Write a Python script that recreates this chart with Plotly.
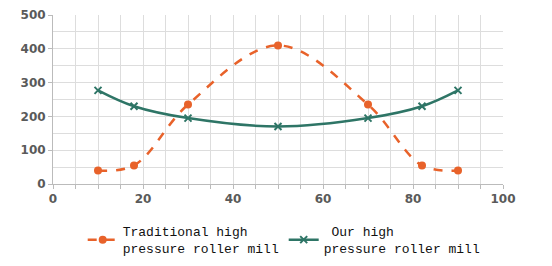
import plotly.graph_objects as go

x_vals = [10, 18, 30, 50, 70, 82, 90]
traditional = [40, 55, 235, 410, 235, 55, 40]
ours = [277, 230, 195, 170, 195, 230, 277]
names = ["Traditional high<br>pressure roller mill", " Our high<br>pressure roller mill"]
x_ticks = [0, 20, 40, 60, 80, 100]
y_ticks = [0, 100, 200, 300, 400, 500]

fig = go.Figure()
fig.add_trace(go.Scatter(
    x=x_vals, y=traditional, name=names[0], mode="lines+markers",
    line=dict(color="#E8622A", width=2.5, dash="dash", shape="spline", smoothing=1.0),
    marker=dict(symbol="circle", size=8, color="#E8622A"),
))
fig.add_trace(go.Scatter(
    x=x_vals, y=ours, name=names[1], mode="lines+markers",
    line=dict(color="#2E7566", width=2.5, shape="spline", smoothing=1.0),
    marker=dict(symbol="x-thin", size=7, color="#2E7566", line=dict(width=2, color="#2E7566")),
))

tickfont = dict(size=12, color="#5A5A5A", family="DejaVu Sans, Liberation Sans", weight="bold")
fig.update_layout(
    width=552, height=266,
    margin=dict(l=53, r=49, t=15, b=82, autoexpand=False),
    paper_bgcolor="white", plot_bgcolor="white",
    font=dict(family="DejaVu Sans, Liberation Sans", size=12, color="#555555"),
    legend=dict(
        orientation="h", x=0.066, xref="paper", y=0.187, yref="container",
        xanchor="left", yanchor="top",
        font=dict(family="Liberation Mono, Courier New, monospace", size=13, color="#111111"),
        itemwidth=30, entrywidth=156, tracegroupgap=0, traceorder="normal",
    ),
    xaxis=dict(
        range=[0, 100], tickvals=x_ticks, showgrid=True, gridcolor="#DDDDDD", gridwidth=1,
        minor=dict(dtick=5, showgrid=True, gridcolor="#DDDDDD", ticks="outside", ticklen=4, tickcolor="#BBBBBB"),
        showline=True, linecolor="#BBBBBB", linewidth=1, ticks="outside", ticklen=4, tickcolor="#BBBBBB",
        zeroline=False, tickfont=tickfont, automargin=False,
    ),
    yaxis=dict(
        range=[0, 500], tickvals=y_ticks, showgrid=True, gridcolor="#DDDDDD", gridwidth=1,
        minor=dict(dtick=50, showgrid=True, gridcolor="#DDDDDD"),
        showline=True, linecolor="#BBBBBB", linewidth=1, ticks="outside", ticklen=4, tickcolor="#BBBBBB",
        zeroline=False, tickfont=tickfont, automargin=False,
    ),
)
fig.write_html("out.html")
